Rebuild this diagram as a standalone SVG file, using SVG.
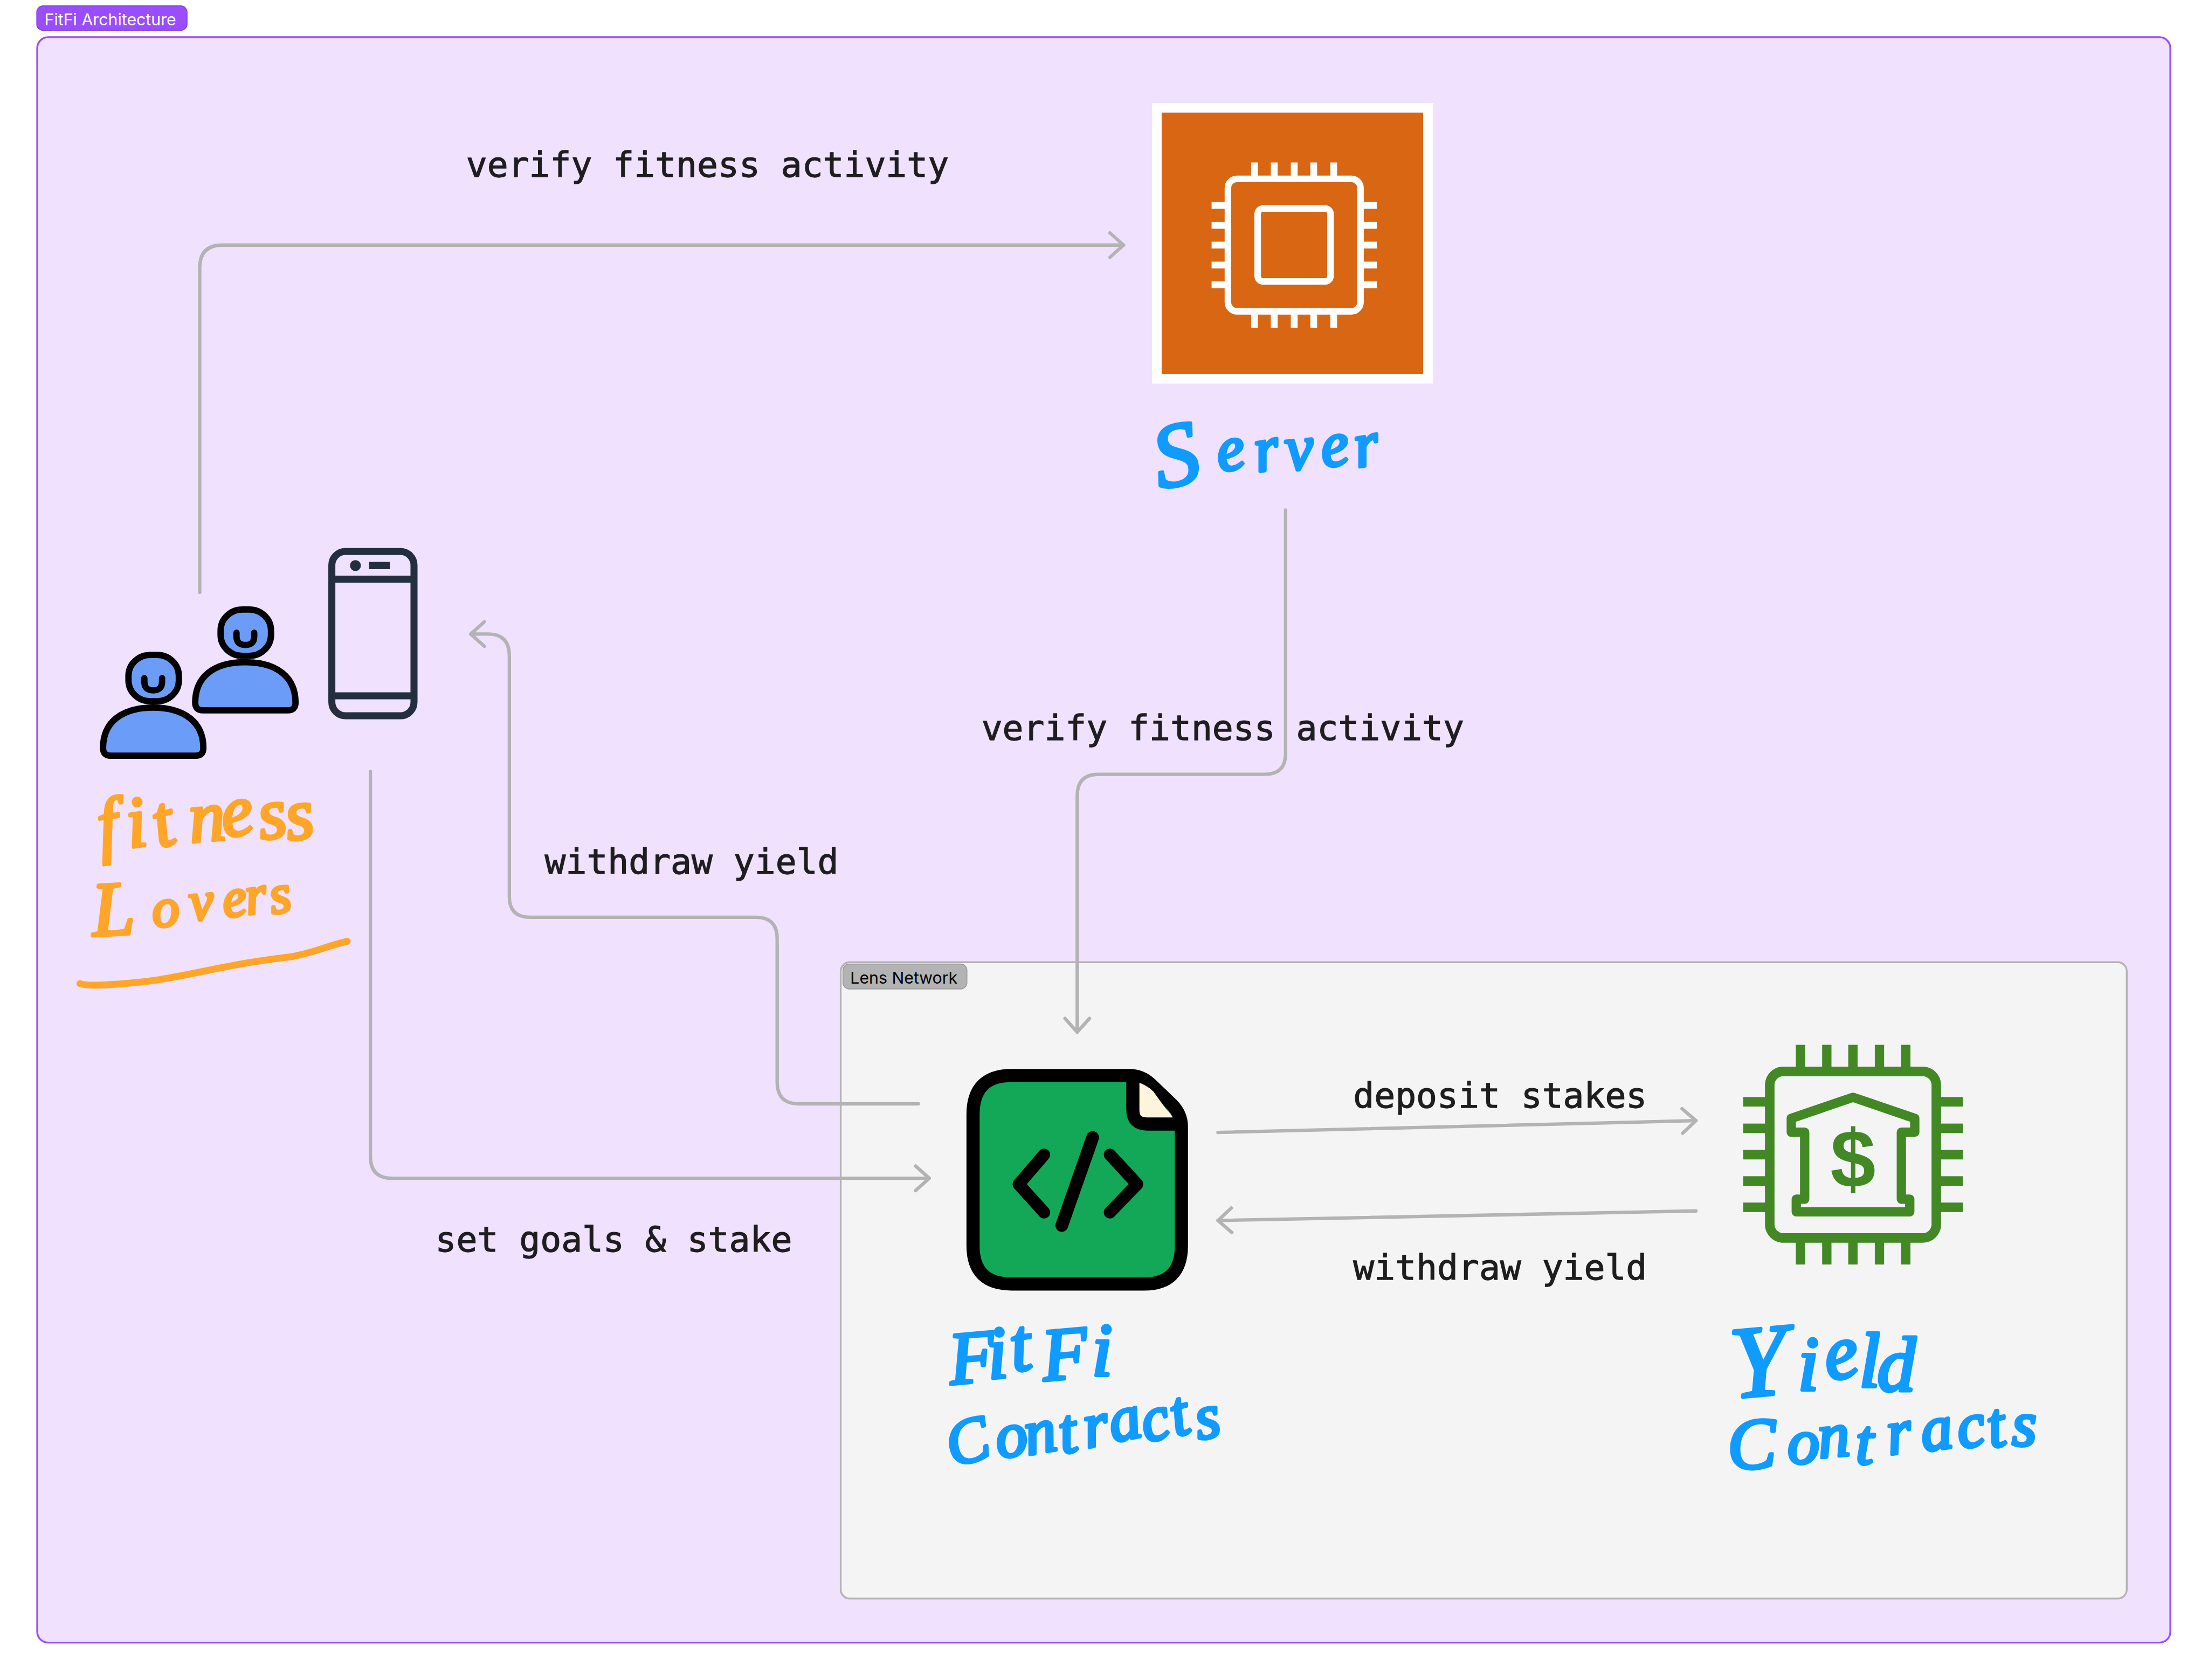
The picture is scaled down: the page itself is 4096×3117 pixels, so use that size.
<svg xmlns="http://www.w3.org/2000/svg" width="4096" height="3117" viewBox="0 0 4096 3117">
<defs>
<style>
.conn{fill:none;stroke:#B3B3B3;stroke-width:7.500;stroke-linecap:round;stroke-linejoin:round}
.lbl{font-family:"DejaVu Sans Mono","Liberation Mono",monospace;font-size:76.8px;fill:#1E1E1E;stroke:#1E1E1E;stroke-width:1.500}
.tag{font-family:Inter,"Liberation Sans",sans-serif;font-size:36px}
.hand{font-family:"Liberation Serif",serif;font-style:italic;stroke-width:7;stroke-linejoin:round;stroke-linecap:round}
.blue{fill:#0F9BFF;stroke:#0F9BFF}
.orange{fill:#FFA629;stroke:#FFA629}
.person{fill:#6B9CF7;stroke:#000;stroke-width:14;stroke-linejoin:round}
.smile{fill:none;stroke:#000;stroke-width:14;stroke-linecap:round}
.white{fill:#fff}
.green{fill:#428825}
</style>
<marker id="arrow" markerUnits="userSpaceOnUse" markerWidth="70" markerHeight="70" viewBox="-40 -35 50 70" refX="0" refY="0" orient="auto">
<path d="M-30 -27L0 0L-30 27" fill="none" stroke="#B3B3B3" stroke-width="7.500" stroke-linecap="round" stroke-linejoin="round"/>
</marker>
<g id="person-shape">
<path class="person" d="M430 1548C430 1492 470 1459 540 1459C610 1459 651 1492 651 1548Q651 1565 634 1565H447Q430 1565 430 1548Z"/>
<rect class="person" x="486" y="1343" width="111" height="102" rx="48" ry="46"/>
<path class="smile" d="M521 1394V1402Q521 1421 540.500 1421Q560 1421 560 1402V1394"/>
</g>
</defs>
<rect width="4096" height="3117" fill="#fff"/>
<g transform="scale(0.84211)">
<g id="frame-fitfi">
<rect x="82" y="82" width="4699" height="3537" rx="24" fill="#F0E1FE" stroke="#994EFF" stroke-width="4"/>
<rect x="81" y="13" width="331" height="54" rx="14" fill="#994DFF" stroke="#8340DB" stroke-width="2"/>
<text class="tag" x="98" y="56" fill="#fff">FitFi Architecture</text>
</g>
<g id="frame-lens">
<rect x="1852" y="2120" width="2833" height="1402" rx="20" fill="#F4F4F4" stroke="#B3B3B3" stroke-width="4"/>
<rect x="1857" y="2124" width="273" height="55" rx="14" fill="#B3B3B3" stroke="#999" stroke-width="2"/>
<text class="tag" x="1873" y="2167" fill="#000">Lens Network</text>
</g>
<g id="connectors">
<path class="conn" marker-end="url(#arrow)" d="M440 1305V590Q440 540 490 540H2475"/>
<path class="conn" marker-end="url(#arrow)" d="M2832 1124V1660Q2832 1706 2786 1706H2420Q2373 1706 2373 1753V2274"/>
<path class="conn" marker-end="url(#arrow)" d="M2023 2432H1760Q1712 2432 1712 2384V2068Q1712 2021 1665 2021H1168Q1122 2021 1122 1976V1445Q1122 1397 1075 1397H1037"/>
<path class="conn" marker-end="url(#arrow)" d="M816 1700V2548Q816 2596 864 2596H2047"/>
<path class="conn" marker-end="url(#arrow)" d="M2683 2495L3736 2469"/>
<path class="conn" marker-end="url(#arrow)" d="M3736 2668L2683 2689"/>
</g>
<g id="connector-labels">
<text class="lbl" x="1027" y="389">verify fitness activity</text>
<text class="lbl" x="2162" y="1630">verify fitness activity</text>
<text class="lbl" x="1200" y="1925">withdraw yield</text>
<text class="lbl" x="2981" y="2440">deposit stakes</text>
<text class="lbl" x="2981" y="2819">withdraw yield</text>
<text class="lbl" x="959" y="2757">set goals &amp; stake</text>
</g>
<g id="node-users">
<use href="#person-shape"/>
<use href="#person-shape" transform="translate(-203 100)"/>
</g>
<g id="node-phone">
<rect x="731" y="1215" width="181" height="362" rx="30" fill="none" stroke="#232F3E" stroke-width="15.500"/>
<path d="M731 1276H912M731 1533H912" fill="none" stroke="#232F3E" stroke-width="15.500"/>
<circle cx="783" cy="1246" r="8" fill="#232F3E" stroke="#232F3E" stroke-width="8"/>
<rect x="813" y="1238" width="46" height="16" fill="#232F3E"/>
</g>
<g id="node-fitness-label">
<text class="hand orange" font-size="160" x="222 285 350 420 495 575 635" y="1872 1868 1868 1856 1846 1850 1852" rotate="-8 -8 -15 -5 -10 -8 -8">fitness</text>
<text class="hand orange"><tspan font-size="170" x="205" y="2062" rotate="-3">L</tspan><tspan font-size="120" x="338 420 495 545 600" y="2043 2028 2022 2015 2014" rotate="-5 -5 -8 -8 -10">overs</tspan></text>
<path d="M176 2167Q190 2172 230 2170C400 2162 450 2130 640 2108C690 2100 720 2084 765 2074" fill="none" stroke="#FFA629" stroke-width="15" stroke-linecap="round"/>
</g>
<g id="node-server">
<rect x="2538" y="227" width="619" height="618" fill="#fff"/>
<rect x="2559" y="248" width="576" height="576" fill="#D86613"/>
<rect x="2705" y="394" width="292" height="292" rx="20" fill="none" stroke="#fff" stroke-width="14.500"/>
<rect x="2770.500" y="459.500" width="160.500" height="160.500" rx="12" fill="none" stroke="#fff" stroke-width="14.500"/>
<g class="white">
<rect x="2756" y="358" width="15" height="30"/><rect x="2799.500" y="358" width="15" height="30"/><rect x="2843.500" y="358" width="15" height="30"/><rect x="2886.500" y="358" width="15" height="30"/><rect x="2930.500" y="358" width="15" height="30"/>
<rect x="2756" y="692" width="15" height="30"/><rect x="2799.500" y="692" width="15" height="30"/><rect x="2843.500" y="692" width="15" height="30"/><rect x="2886.500" y="692" width="15" height="30"/><rect x="2930.500" y="692" width="15" height="30"/>
<rect x="2669" y="445" width="30" height="15"/><rect x="2669" y="489" width="30" height="15"/><rect x="2669" y="532.500" width="30" height="15"/><rect x="2669" y="576.500" width="30" height="15"/><rect x="2669" y="620" width="30" height="15"/>
<rect x="3003" y="445" width="30" height="15"/><rect x="3003" y="489" width="30" height="15"/><rect x="3003" y="532.500" width="30" height="15"/><rect x="3003" y="576.500" width="30" height="15"/><rect x="3003" y="620" width="30" height="15"/>
</g>
<text class="hand blue"><tspan font-size="200" x="2555" y="1078" rotate="-12">S</tspan><tspan font-size="140" x="2687 2770 2835 2915 2990" y="1040 1040 1036 1030 1030" rotate="-10 -10 -5 -8 -10">erver</tspan></text>
</g>
<g id="node-fitfi-contracts">
<path d="M2229 2369.500H2487Q2515 2369.500 2535 2389L2582 2434Q2602.500 2455 2602.500 2482V2745Q2602.500 2829 2520 2829H2229Q2143.500 2829 2143.500 2745V2455Q2143.500 2369.500 2229 2369.500Z" fill="#12A858" stroke="#000" stroke-width="29" stroke-linejoin="round"/>
<path d="M2505 2384Q2525 2390 2540 2404L2570 2445Q2578 2452 2585 2465H2505Z" fill="#FFF4DC"/>
<path d="M2495.500 2372V2445Q2495.500 2476.500 2527 2476.500H2598" fill="none" stroke="#000" stroke-width="29"/>
<path d="M2300 2544L2244 2609L2300 2671M2445 2544L2505 2609L2445 2671" fill="none" stroke="#000" stroke-width="27" stroke-linecap="round" stroke-linejoin="round"/>
<path d="M2407 2506L2339 2700" fill="none" stroke="#000" stroke-width="28" stroke-linecap="round"/>
<text class="hand blue" font-size="165" x="2095 2178 2232 2300 2405" y="3050 3038 3022 3042 3030" rotate="-5 -5 -8 -5 0">FitFi</text>
<text class="hand blue" font-size="140" x="2098 2200 2264 2340 2394 2452 2525 2590 2640" y="3232 3214 3206 3203 3190 3178 3179 3165 3172" rotate="-15 -10 -10 -10 -10 -12 -15 -15 -10">Contracts</text>
</g>
<g id="node-yield-contracts">
<rect x="3898.500" y="2360.500" width="367" height="367" rx="30" fill="none" stroke="#428825" stroke-width="21"/>
<g class="green">
<rect x="3956" y="2302" width="20.500" height="49"/><rect x="4014" y="2302" width="20.500" height="49"/><rect x="4071.500" y="2302" width="20.500" height="49"/><rect x="4130" y="2302" width="20.500" height="49"/><rect x="4188" y="2302" width="20.500" height="49"/>
<rect x="3956" y="2737" width="20.500" height="49"/><rect x="4014" y="2737" width="20.500" height="49"/><rect x="4071.500" y="2737" width="20.500" height="49"/><rect x="4130" y="2737" width="20.500" height="49"/><rect x="4188" y="2737" width="20.500" height="49"/>
<rect x="3840" y="2417" width="49" height="21"/><rect x="3840" y="2475.500" width="49" height="21"/><rect x="3840" y="2533.500" width="49" height="21"/><rect x="3840" y="2591.500" width="49" height="21"/><rect x="3840" y="2649.500" width="49" height="21"/>
<rect x="4275" y="2417" width="49" height="21"/><rect x="4275" y="2475.500" width="49" height="21"/><rect x="4275" y="2533.500" width="49" height="21"/><rect x="4275" y="2591.500" width="49" height="21"/><rect x="4275" y="2649.500" width="49" height="21"/>
</g>
<path d="M4082 2417.500L3946 2464V2494.500H3975.500V2642H3957V2670H4207V2642H4188.500V2494.500H4218V2464Z" fill="none" stroke="#428825" stroke-width="20.500" stroke-linejoin="round"/>
<text x="4082" y="2616" text-anchor="middle" font-family="'Liberation Sans',sans-serif" font-weight="700" font-size="180" fill="#428825">$</text>
<text class="hand blue"><tspan font-size="225" x="3818" y="3080" rotate="-5">Y</tspan><tspan font-size="170" x="3960 4027 4095 4135" y="3062 3042 3055 3065" rotate="0 -10 0 0">ield</tspan></text>
<text class="hand blue"><tspan font-size="160" x="3808" y="3238" rotate="-3">C</tspan><tspan font-size="140" x="3938 4008 4088 4162 4237 4318 4385 4432" y="3224 3212 3225 3205 3198 3192 3190 3185" rotate="0 -5 0 -8 -8 -10 -10 0">ontracts</tspan></text>
</g>
</g>
</svg>
